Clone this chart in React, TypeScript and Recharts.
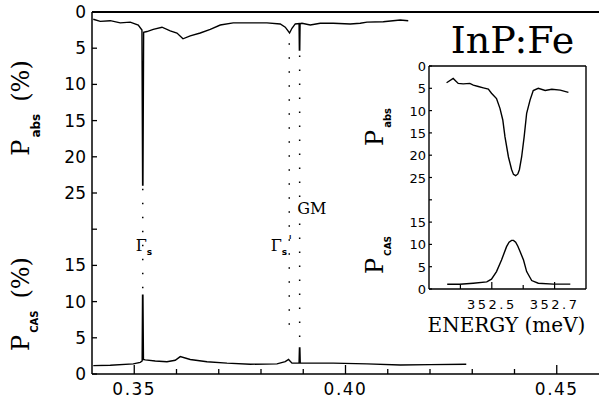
import { LineChart, Line, XAxis, YAxis, ReferenceLine } from 'recharts'

// Main spectrum, photon energy in eV
// absorption (upper panel), P_abs in %
const absEnergy = [
  0.3403, 0.34195, 0.34432, 0.34669, 0.34905, 0.35095, 0.35182, 0.35198, 0.35206, 0.35222,
  0.35301, 0.3545, 0.35656, 0.35852, 0.36011, 0.36153, 0.36325, 0.36562, 0.36799, 0.37036,
  0.37343, 0.37746, 0.38141, 0.38456, 0.38574, 0.38676, 0.38733, 0.38811, 0.38901, 0.38908,
  0.38917, 0.38925, 0.38969, 0.39166, 0.39402, 0.3971, 0.40112, 0.40349, 0.40508, 0.40893,
  0.41296, 0.41485,
]
const absPercent = [
  1.0, 1.3, 1.2, 1.5, 1.4, 1.8, 2.5, 23.9, 23.9, 2.8,
  2.7, 2.4, 2.1, 2.6, 2.9, 3.7, 3.3, 2.9, 2.4, 1.8,
  1.5, 1.5, 1.5, 1.65, 2.1, 2.9, 2.25, 1.65, 1.6, 5.25,
  5.25, 1.6, 1.56, 1.8, 1.56, 1.56, 1.65, 1.56, 1.4, 1.34,
  1.1, 1.2,
]
// CAS signal (lower panel), P_CAS in %
const casEnergy = [
  0.3403, 0.34432, 0.34976, 0.35142, 0.35187, 0.35196, 0.35206, 0.35218, 0.3526, 0.35497,
  0.35774, 0.3597, 0.36089, 0.36325, 0.36721, 0.37194, 0.37746, 0.38378, 0.38574, 0.38652,
  0.38733, 0.38901, 0.3891, 0.3892, 0.38929, 0.38969, 0.3971, 0.40508, 0.41296, 0.42006,
  0.42858,
]
const casPercent = [
  1.15, 1.2, 1.4, 1.6, 1.8, 10.9, 10.9, 2.0, 1.95, 1.8,
  1.7, 1.9, 2.4, 2.0, 1.7, 1.5, 1.35, 1.4, 1.7, 2.0,
  1.5, 1.5, 3.6, 3.6, 1.5, 1.5, 1.5, 1.4, 1.25, 1.3,
  1.35,
]

const mainXTicks = [0.35, 0.36, 0.37, 0.38, 0.39, 0.4, 0.41, 0.42, 0.43, 0.44, 0.45]
const mainXLabels = ['0.35', '', '', '', '', '0.40', '', '', '', '', '0.45']
// both panels share one 0..50 axis, the abs panel is drawn as 50 - P_abs
const yTicks = [0, 5, 10, 15, 20, 25, 30, 35, 40, 45, 50]
const yTickLabels = ['0', '5', '10', '15', '', '25', '20', '15', '10', '5', '0']

// line positions (eV)
const gamma5 = 0.35201
const gamma5p = 0.38669
const gmLine = 0.38915

// Inset, energy in meV
const insetAbsEnergy = [
  352.356, 352.377, 352.393, 352.409, 352.43, 352.441, 352.457, 352.473, 352.489, 352.499,
  352.515, 352.526, 352.535, 352.542, 352.553, 352.563, 352.569, 352.576, 352.583, 352.588,
  352.595, 352.603, 352.611, 352.622, 352.632, 352.648, 352.67, 352.691, 352.718, 352.744,
]
const insetAbsPercent = [
  3.75, 2.8, 3.9, 4.0, 3.9, 4.3, 4.6, 4.9, 5.2, 6.1,
  7.3, 9.5, 12.1, 15.9, 20.4, 23.2, 24.3, 24.6, 24.2, 23.2,
  20.4, 15.9, 10.6, 7.6, 5.5, 5.0, 5.5, 5.2, 5.4, 5.9,
]
const insetCasEnergy = [
  352.358, 352.398, 352.441, 352.484, 352.499, 352.515, 352.531, 352.547, 352.555, 352.563,
  352.569, 352.576, 352.583, 352.59, 352.601, 352.611, 352.627, 352.648, 352.696, 352.75,
]
const insetCasPercent = [
  1.05, 1.05, 1.3, 1.6, 2.2, 3.9, 6.5, 9.5, 10.5, 10.9,
  10.9, 10.5, 9.6, 8.4, 6.5, 3.9, 1.9, 1.3, 1.1, 1.1,
]
const insetXTicks = [352.4, 352.5, 352.6, 352.7]
const insetXLabels = ['', '352.5', '', '352.7']

const absData = absEnergy.map((e, i) => ({ e, v: 50 - absPercent[i] }))
const casData = casEnergy.map((e, i) => ({ e, v: casPercent[i] }))
const insetAbsData = insetAbsEnergy.map((e, i) => ({ e, v: 50 - insetAbsPercent[i] }))
const insetCasData = insetCasEnergy.map((e, i) => ({ e, v: insetCasPercent[i] }))

const SERIF = 'DejaVu Serif'
const SANS = 'DejaVu Sans'

function MainXTick(props: any) {
  const { x, y, payload } = props
  const label = mainXLabels[mainXTicks.indexOf(payload.value)]
  return (
    <g>
      <line x1={x} y1={y} x2={x} y2={y - (label ? 9 : 5)} stroke="#000" strokeWidth={1.3} />
      {label && (
        <text x={x} y={y + 21} textAnchor="middle" fontFamily={SANS} fontSize={17} letterSpacing={1.5} fill="#000">
          {label}
        </text>
      )}
    </g>
  )
}

function MainYTick(props: any) {
  const { x, y, payload } = props
  const label = yTickLabels[yTicks.indexOf(payload.value)]
  return (
    <g>
      <line x1={x} y1={y} x2={x + 5} y2={y} stroke="#000" strokeWidth={1.3} />
      <text x={x - 6} y={y + 6} textAnchor="end" fontFamily={SANS} fontSize={17} fill="#000">
        {label}
      </text>
    </g>
  )
}

function InsetXTick(props: any) {
  const { x, y, payload } = props
  const label = insetXLabels[insetXTicks.indexOf(payload.value)]
  return (
    <g>
      <line x1={x} y1={y} x2={x} y2={y - (label ? 7 : 4)} stroke="#000" strokeWidth={1.2} />
      {label && (
        <text x={x} y={y + 20} textAnchor="middle" fontFamily={SANS} fontSize={13} letterSpacing={2.5} fill="#000">
          {label}
        </text>
      )}
    </g>
  )
}

function InsetYTick(props: any) {
  const { x, y, payload } = props
  const label = yTickLabels[yTicks.indexOf(payload.value)]
  return (
    <g>
      <line x1={x} y1={y} x2={x + 3} y2={y} stroke="#000" strokeWidth={1.2} />
      <text x={x - 3} y={y + 5} textAnchor="end" fontFamily={SANS} fontSize={13} fill="#000">
        {label}
      </text>
    </g>
  )
}

// rotated "P_sub (%)" title, x is the baseline of the big P
function RotTitle({ x, y, sub, size, subSize, subDy, unit }: any) {
  return (
    <text transform={`rotate(-90 ${x} ${y})`} x={x} y={y} textAnchor="middle" fill="#000">
      <tspan fontFamily={SERIF} fontSize={size}>P</tspan>
      <tspan fontFamily={SANS} fontWeight="bold" fontSize={subSize} dx={2} dy={subDy}>{sub}</tspan>
      {unit && (
        <tspan fontFamily={SERIF} fontSize={size} dx={12} dy={-subDy}>(%)</tspan>
      )}
    </text>
  )
}

export default function App() {
  return (
    <div style={{ position: 'absolute', left: 0, top: 0, width: 599, height: 400, background: '#fff' }}>
      <div style={{ position: 'absolute', left: 0, top: 0 }}>
        <LineChart width={599} height={400} margin={{ top: 12, right: 0, bottom: 0, left: 0 }}>
          <XAxis
            type="number"
            dataKey="e"
            domain={[0.34, 0.46]}
            ticks={mainXTicks}
            interval={0}
            height={26}
            tickSize={0}
            tickMargin={0}
            tickLine={false}
            tick={<MainXTick />}
            axisLine={{ stroke: '#000', strokeWidth: 1.5 }}
          />
          <YAxis
            type="number"
            domain={[0, 50]}
            ticks={yTicks}
            interval={0}
            width={92}
            tickSize={0}
            tickMargin={0}
            tickLine={false}
            tick={<MainYTick />}
            axisLine={{ stroke: '#000', strokeWidth: 1.5 }}
            label={() => (
              <g>
                <RotTitle x={29} y={108} sub="abs" size={24} subSize={12} subDy={11} unit />
                <RotTitle x={29} y={304} sub="CAS" size={24} subSize={10} subDy={9} unit />
              </g>
            )}
          />
          <ReferenceLine y={50} stroke="#000" strokeWidth={1.8} />
          <ReferenceLine
            segment={[{ x: gamma5, y: 25.6 }, { x: gamma5, y: 11.3 }]}
            stroke="#000"
            strokeWidth={1.5}
            strokeDasharray="1.5 12.5"
            label={({ viewBox }: any) => (
              <text x={viewBox.x - 7} y={251} fill="#000">
                <tspan fontFamily={SERIF} fontSize={16}>Γ</tspan>
                <tspan fontFamily={SANS} fontWeight="bold" fontSize={9} dy={4}>s</tspan>
              </text>
            )}
          />
          <ReferenceLine
            segment={[{ x: gamma5p, y: 45.7 }, { x: gamma5p, y: 5.1 }]}
            stroke="#000"
            strokeWidth={1.5}
            strokeDasharray="1.5 12.5"
            label={({ viewBox }: any) => (
              <text x={viewBox.x - 18.5} y={251} fill="#000">
                <tspan fontFamily={SERIF} fontSize={16}>Γ</tspan>
                <tspan fontFamily={SANS} fontWeight="bold" fontSize={9} dy={4}>s</tspan>
                <tspan fontFamily={SERIF} fontSize={14} dx={1} dy={-9}>'</tspan>
              </text>
            )}
          />
          <ReferenceLine
            segment={[{ x: gmLine, y: 44.0 }, { x: gmLine, y: 4.7 }]}
            stroke="#000"
            strokeWidth={1.5}
            strokeDasharray="1.5 12.5"
            label={({ viewBox }: any) => (
              <text x={viewBox.x - 2.5} y={214} fontFamily={SERIF} fontSize={16} fill="#000">
                GM
              </text>
            )}
          />
          <Line data={absData} dataKey="v" type="linear" stroke="#000" strokeWidth={1.4} dot={false} isAnimationActive={false} />
          <Line data={casData} dataKey="v" type="linear" stroke="#000" strokeWidth={1.4} dot={false} isAnimationActive={false} />
        </LineChart>
      </div>
      <div style={{ position: 'absolute', left: 350, top: 0 }}>
        <LineChart width={249} height={340} margin={{ top: 66, right: 13, bottom: 0, left: 0 }}>
          <XAxis
            type="number"
            dataKey="e"
            domain={[352.3, 352.8]}
            ticks={insetXTicks}
            interval={0}
            height={51}
            tickSize={0}
            tickMargin={0}
            tickLine={false}
            tick={<InsetXTick />}
            axisLine={{ stroke: '#000', strokeWidth: 1.4 }}
            label={() => (
              <text x={156.5} y={332} textAnchor="middle" fontFamily={SERIF} fontSize={20} fill="#000">
                ENERGY (meV)
              </text>
            )}
          />
          <YAxis
            type="number"
            domain={[0, 50]}
            ticks={yTicks}
            interval={0}
            width={79}
            tickSize={0}
            tickMargin={0}
            tickLine={false}
            tick={<InsetYTick />}
            axisLine={{ stroke: '#000', strokeWidth: 1.4 }}
            label={() => (
              <g>
                <RotTitle x={33} y={127} sub="abs" size={24} subSize={10} subDy={8} />
                <RotTitle x={33} y={255} sub="CAS" size={24} subSize={9} subDy={8} />
              </g>
            )}
          />
          <ReferenceLine
            y={50}
            stroke="#000"
            strokeWidth={1.4}
            label={({ viewBox }: any) => (
              <text x={viewBox.x + viewBox.width / 2 + 5} y={viewBox.y - 13} textAnchor="middle" fontFamily={SERIF} fontSize={38} fill="#000">
                InP:Fe
              </text>
            )}
          />
          <ReferenceLine x={352.8} stroke="#000" strokeWidth={1.4} />
          <Line data={insetAbsData} dataKey="v" type="linear" stroke="#000" strokeWidth={1.4} dot={false} isAnimationActive={false} />
          <Line data={insetCasData} dataKey="v" type="linear" stroke="#000" strokeWidth={1.4} dot={false} isAnimationActive={false} />
        </LineChart>
      </div>
    </div>
  )
}
